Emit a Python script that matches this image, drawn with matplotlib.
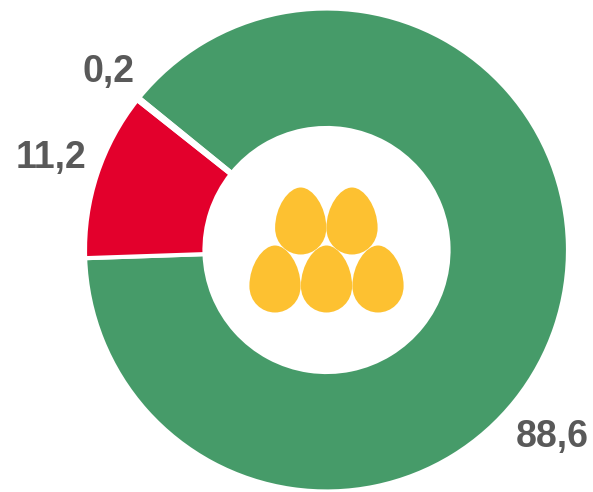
import matplotlib.pyplot as plt
from matplotlib.patches import PathPatch
from matplotlib.path import Path

plt.rcParams['font.family'] = ['Liberation Sans', 'DejaVu Sans']

valores = [88.6, 11.2, 0.2]
rotulos = ['88,6', '11,2', '0,2']
cores = ['#469B69', '#E3002C', '#FFFFFF']

# posicoes em pixels da imagem (y ja invertido no desenho)
pos_rotulos = [(552.5, 437), (50.5, 158), (108, 72)]
ovos_x = [300.7, 352, 275, 326.5, 378]
ovos_y = [221, 221, 279, 279, 279]

ALTURA = 492


def desenha_ovo(ax, cx, cy):
    w = 25.6
    h = 33.5
    yl = -0.21
    pts = [(0, 1), (0.48, 1), (1, 0.42), (1, yl),
           (1, -0.68), (0.52, -1), (0, -1),
           (-0.52, -1), (-1, -0.68), (-1, yl),
           (-1, 0.42), (-0.48, 1), (0, 1)]
    pts = [(cx + x * w, ALTURA - cy + y * h) for x, y in pts]
    codes = [Path.MOVETO] + [Path.CURVE4] * 12
    ax.add_patch(PathPatch(Path(pts, codes), facecolor='#FDC131', edgecolor='none', zorder=3))


fig = plt.figure(figsize=(5.93, 4.92), dpi=100)
ax = fig.add_axes([0, 0, 1, 1])

ax.pie(valores, colors=cores, startangle=140.9, counterclock=False,
       center=(326.5, ALTURA - 250), radius=241.5, frame=True,
       wedgeprops={'width': 119.5, 'edgecolor': 'white', 'linewidth': 3.0})

ax.set_xlim(0, 593)
ax.set_ylim(0, ALTURA)
ax.set_aspect('equal')
ax.axis('off')

for x, y in zip(ovos_x, ovos_y):
    desenha_ovo(ax, x, y)

for texto, (x, y) in zip(rotulos, pos_rotulos):
    ax.text(x, ALTURA - y, texto, fontsize=27, fontweight='bold', color='#595959',
            ha='center', va='center')

fig.savefig('out.png', dpi=100)
